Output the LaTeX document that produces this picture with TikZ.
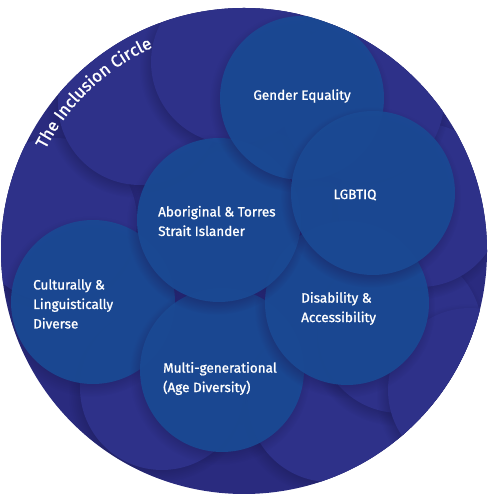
\documentclass[tikz,border=0pt]{standalone}
\usepackage{fontspec}
\setmainfont{Fira Sans}[FakeBold=1.2]
\usetikzlibrary{shadows,decorations.text}
\definecolor{navy}{HTML}{2A2B7F}
\definecolor{bgc}{HTML}{2E3189}
\definecolor{shd}{HTML}{1A1A55}
\definecolor{fgc}{HTML}{1A4A94}
\begin{document}
\begin{tikzpicture}[x=1pt,y=1pt,
  bgcircle/.style={circle, fill=bgc, minimum size=164pt, inner sep=0pt,
    circular drop shadow={shadow xshift=-3pt, shadow yshift=-4pt, opacity=0.45, fill=shd}},
  fgcircle/.style={circle, fill=fgc, fill opacity=0.93, minimum size=164pt, inner sep=0pt,
    circular drop shadow={shadow xshift=-2pt, shadow yshift=-4pt, opacity=0.4, fill=shd}},
  lbl/.style={text=white, inner sep=0pt, align=left, font=\fontsize{13.5}{19.5}\selectfont}]
\useasboundingbox (0,0) rectangle (488,500);
\fill[navy] (244,249) circle (243);
\begin{scope}
\clip (244,249) circle (243);
% background circles
\node[bgcircle] (b3) at (55,280) {};
\node[bgcircle] (b4) at (162,112) {};
\node[bgcircle] (b5) at (330,100) {};
\node[bgcircle] (b6) at (400,169) {};
\node[bgcircle] (b9) at (470,110) {};
\node[bgcircle] (b7) at (420,295) {};
\node[bgcircle] (b8) at (362,400) {};
\node[bgcircle] (b2) at (140,397) {};
\node[bgcircle] (b1) at (233,438) {};
% foreground circles
\node[fgcircle] (cult) at (93,198) {};
\node[fgcircle] (multi) at (222,130) {};
\node[fgcircle] (dis) at (347,197) {};
\node[fgcircle] (abor) at (219,280) {};
\node[fgcircle] (ge) at (302,402) {};
\node[fgcircle] (lgb) at (373,307) {};
\end{scope}
% labels
\node[lbl] (tge) at (302,404) {Gender Equality};
\node[lbl] (tlgb) at (355,305) {LGBTIQ};
\node[lbl, anchor=west] (tabor) at (158,279) {Aboriginal \& Torres\\Strait Islander};
\node[lbl, anchor=west] (tcult) at (33,196) {Culturally \&\\Linguistically\\Diverse};
\node[lbl, anchor=west] (tmulti) at (163,121.5) {Multi-generational\\(Age Diversity)};
\node[lbl, anchor=west] (tdis) at (301,191.5) {Disability \&\\Accessibility};
% curved title
\path[decorate, decoration={text along path, text align=center, text color=white,
  text={|\fontsize{17}{17}\selectfont|The Inclusion Circle}}]
  (244,249) ++(157:223) arc (157:110:223);
\end{tikzpicture}
\end{document}
